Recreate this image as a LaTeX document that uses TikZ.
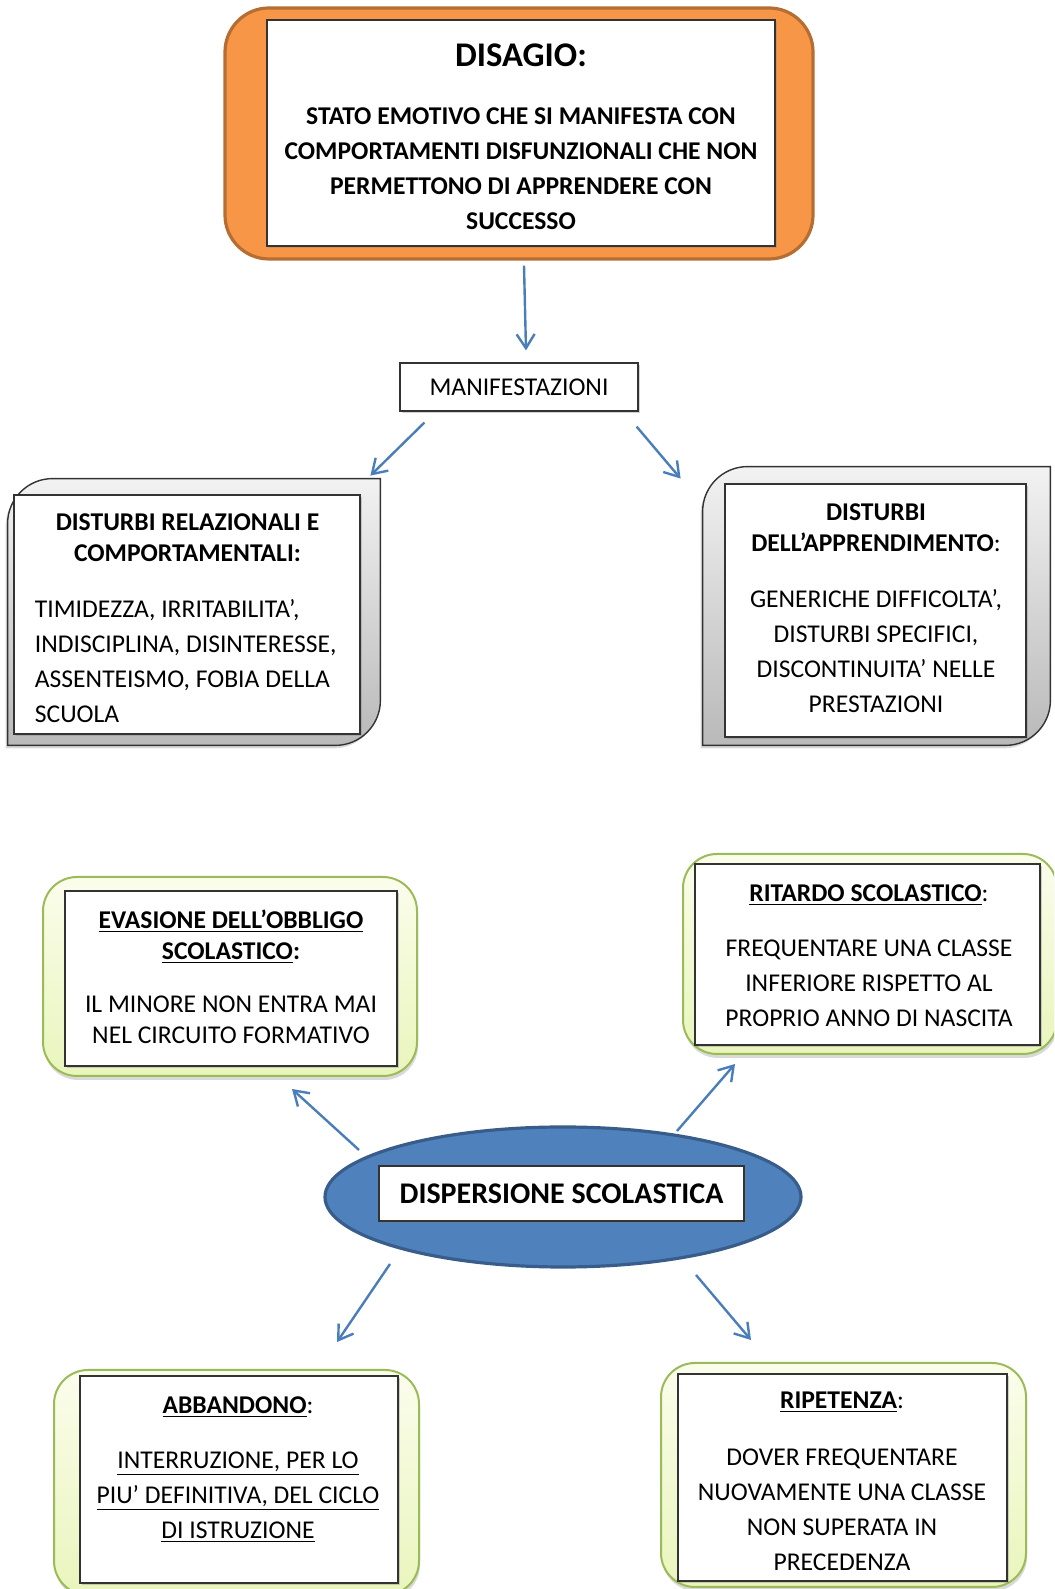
\documentclass[tikz,border=0pt]{standalone}
\usepackage{fontspec}
\setmainfont{Carlito}
\usepackage{xcolor}
\usepackage{tikz}
\usetikzlibrary{shapes.geometric, arrows.meta, positioning, shadows}

\definecolor{orangefill}{RGB}{247,150,70}
\definecolor{orangeline}{RGB}{182,109,49}
\definecolor{bluefill}{RGB}{79,129,189}
\definecolor{blueline}{RGB}{56,93,138}
\definecolor{arrowblue}{RGB}{74,126,187}
\definecolor{greenline}{RGB}{155,187,89}
\definecolor{greentop}{RGB}{251,253,236}
\definecolor{greenbottom}{RGB}{233,245,188}

\tikzstyle{orangebox} = [rectangle, rounded corners=22pt, draw=orangeline, line width=1.6pt, fill=orangefill]
\tikzstyle{whitebox} = [rectangle, draw=black!80, line width=0.6pt, fill=white, drop shadow={shadow xshift=0.8pt, shadow yshift=-0.8pt, opacity=0.35}]
\tikzstyle{greenbox} = [rectangle, rounded corners=17pt, draw=greenline, line width=1pt, top color=greentop, bottom color=greenbottom, drop shadow={shadow xshift=0.5pt, shadow yshift=-2pt, opacity=0.3}]
\tikzstyle{greyshape} = [draw=black!80, line width=0.7pt, top color=gray!10, bottom color=gray!55, drop shadow={shadow xshift=-1pt, shadow yshift=-1.5pt, opacity=0.3}]
\tikzstyle{outline} = [rectangle, inner sep=0pt]
\tikzstyle{blueoval} = [ellipse, draw=blueline, line width=1.6pt, fill=bluefill]
\tikzstyle{head} = [inner sep=0pt, anchor=north, align=center, font=\fontsize{12.8}{15.5}\selectfont\bfseries]
\tikzstyle{body} = [inner sep=0pt, anchor=north, align=center, font=\fontsize{12.8}{17.5}\selectfont]
\tikzstyle{arrow} = [line width=1.2pt, draw=arrowblue, -{Straight Barb[length=7pt, width=9pt]}]

\begin{document}
\begin{tikzpicture}[x=0.5pt, y=0.5pt]

\useasboundingbox (0,0) rectangle (1054,1589);
\clip (0,0) rectangle (1054,1589);

% DISAGIO
\node (disout) [orangebox, minimum width=294pt, minimum height=125.5pt] at (519,1455.5) {};
\node (disin) [whitebox, minimum width=254pt, minimum height=113pt] at (521,1456) {};
\node (dishead) [head, font=\fontsize{17.3}{20}\selectfont\bfseries] at (521,1546) {DISAGIO:};
\node (distxt) [body, font=\fontsize{12.8}{17.5}\selectfont\bfseries] at (521,1482) {STATO EMOTIVO CHE SI MANIFESTA CON\\COMPORTAMENTI DISFUNZIONALI CHE NON\\PERMETTONO DI APPRENDERE CON\\SUCCESSO};

\node (manif) [whitebox, minimum width=119pt, minimum height=24pt, font=\fontsize{12.8}{15}\selectfont] at (519,1202) {MANIFESTAZIONI};

% disturbi relazionali
\node (relout) [outline, minimum width=186pt, minimum height=133pt] at (194,977) {};
\draw [greyshape] (relout.south west) -- ([xshift=-22.5pt]relout.south east) arc[start angle=-90, end angle=0, radius=22.5pt] -- (relout.north east) -- ([xshift=22.5pt]relout.north west) arc[start angle=90, end angle=180, radius=22.5pt] -- cycle;
\node (relin) [whitebox, minimum width=173pt, minimum height=119.5pt] at (187,974.5) {};
\node (relhead) [head] at (187.5,1076) {DISTURBI RELAZIONALI E\\COMPORTAMENTALI:};
\node (reltxt) [body, align=left, anchor=north west] at (34.5,990) {TIMIDEZZA, IRRITABILITA’,\\INDISCIPLINA, DISINTERESSE,\\ASSENTEISMO, FOBIA DELLA\\SCUOLA};

% disturbi apprendimento
\node (appout) [outline, minimum width=173.5pt, minimum height=139pt] at (876.5,983) {};
\draw [greyshape] (appout.south west) -- ([xshift=-22.5pt]appout.south east) arc[start angle=-90, end angle=0, radius=22.5pt] -- (appout.north east) -- ([xshift=22.5pt]appout.north west) arc[start angle=90, end angle=180, radius=22.5pt] -- cycle;
\node (appin) [whitebox, minimum width=150.5pt, minimum height=126.5pt] at (875.5,978.5) {};
\node (apphead) [head] at (876,1086) {DISTURBI\\DELL’APPRENDIMENTO{\mdseries :}};
\node (apptxt) [body] at (876,1000) {GENERICHE DIFFICOLTA’,\\DISTURBI SPECIFICI,\\DISCONTINUITA’ NELLE\\PRESTAZIONI};

% evasione
\node (evaout) [greenbox, minimum width=187pt, minimum height=99.5pt] at (230,612.5) {};
\node (evain) [whitebox, minimum width=166pt, minimum height=87.5pt] at (231,610.5) {};
\node (evahead) [head] at (231,680) {\underline{EVASIONE DELL’OBBLIGO}\\\underline{SCOLASTICO}:};
\node (evatxt) [body, font=\fontsize{12.8}{15.5}\selectfont] at (231,594) {IL MINORE NON ENTRA MAI\\NEL CIRCUITO FORMATIVO};

% ritardo
\node (ritout) [greenbox, minimum width=187pt, minimum height=100pt] at (870,635) {};
\node (ritin) [whitebox, minimum width=172.5pt, minimum height=90.5pt] at (867.5,634.5) {};
\node (rithead) [head] at (869,705) {\underline{RITARDO SCOLASTICO}{\mdseries :}};
\node (rittxt) [body] at (869,650) {FREQUENTARE UNA CLASSE\\INFERIORE RISPETTO AL\\PROPRIO ANNO DI NASCITA};

% dispersione
\node (disp) [blueoval, minimum width=238pt, minimum height=70pt] at (563,392) {};
\node (dispin) [whitebox, minimum width=182.5pt, minimum height=27.5pt, font=\fontsize{15}{18}\selectfont\bfseries] at (561.5,395.5) {DISPERSIONE SCOLASTICA};

% abbandono
\node (abbout) [greenbox, minimum width=182.5pt, minimum height=112.5pt] at (236.5,106.5) {};
\node (abbin) [whitebox, minimum width=159pt, minimum height=103.5pt] at (239,109.5) {};
\node (abbhead) [head] at (238,193) {\underline{ABBANDONO}{\mdseries :}};
\node (abbtxt) [body] at (238,138) {\underline{INTERRUZIONE, PER LO}\\\underline{PIU’ DEFINITIVA, DEL CICLO}\\\underline{DI ISTRUZIONE}};

% ripetenza
\node (ripout) [greenbox, minimum width=182.5pt, minimum height=112pt] at (843.5,114) {};
\node (ripin) [whitebox, minimum width=164.5pt, minimum height=103.5pt] at (842.5,111.5) {};
\node (riphead) [head] at (842,197) {\underline{RIPETENZA}{\mdseries :}};
\node (riptxt) [body] at (842,141) {DOVER FREQUENTARE\\NUOVAMENTE UNA CLASSE\\NON SUPERATA IN\\PRECEDENZA};

\draw [arrow] ([shift={(5,-5)}]disout.south) -- ([shift={(7,12)}]manif.north);
\draw [arrow] ([shift={(25,-11)}]manif.south west) -- ([shift={(-10,3)}]relout.north east);
\draw [arrow] ([shift={(-2,-15)}]manif.south east) -- ([shift={(-22,-12)}]appout.north west);
\draw [arrow] ([shift={(-204,47)}]disp.center) -- ([shift={(62,-12)}]evaout.south);
\draw [arrow] ([shift={(114,66)}]disp.center) -- ([shift={(53,-9)}]ritout.south west);
\draw [arrow] ([shift={(-173,-67)}]disp.center) -- ([shift={(100.5,27)}]abbout.north);
\draw [arrow] ([shift={(133,-78)}]disp.center) -- ([shift={(-92.5,22)}]ripout.north);

\end{tikzpicture}
\end{document}
